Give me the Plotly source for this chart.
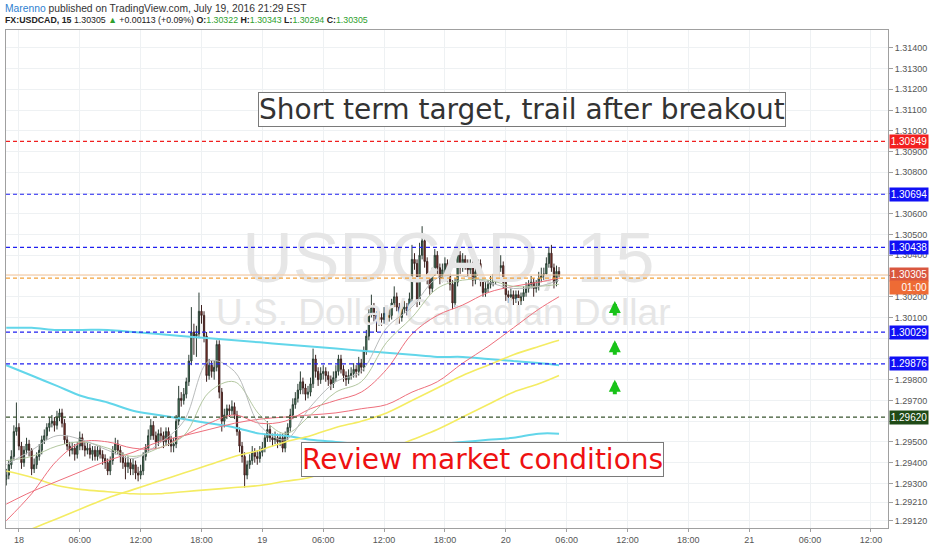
import plotly.graph_objects as go
import pandas as pd

# ---------------- data ----------------
start_time = "2016-07-17 22:45"   # first 15-minute candle

opens = [1.2932,1.2934,1.2939,1.2943,1.2955,1.2957,1.2948,1.2940,1.2946,1.2949,
 1.2946,1.2937,1.2939,1.2943,1.2946,1.2951,1.2953,1.2957,1.2959,1.2960,
 1.2958,1.2962,1.2964,1.2959,1.2951,1.2948,1.2946,1.2947,1.2944,1.2948,
 1.2952,1.2948,1.2946,1.2947,1.2944,1.2946,1.2943,1.2946,1.2944,1.2942,
 1.2940,1.2936,1.2941,1.2946,1.2949,1.2946,1.2943,1.2940,1.2938,1.2940,
 1.2937,1.2939,1.2935,1.2934,1.2936,1.2943,1.2947,1.2953,1.2958,1.2953,
 1.2950,1.2954,1.2953,1.2950,1.2955,1.2951,1.2948,1.2949,1.2960,1.2971,
 1.2970,1.2973,1.2979,1.2989,1.3003,1.3001,1.3002,1.3013,1.3011,1.3001,
 1.2982,1.2987,1.2984,1.2986,1.2997,1.2974,1.2960,1.2963,1.2966,1.2965,
 1.2967,1.2963,1.2955,1.2948,1.2943,1.2934,1.2939,1.2941,1.2945,1.2943,
 1.2942,1.2945,1.2947,1.2952,1.2956,1.2952,1.2951,1.2952,1.2950,1.2952,
 1.2947,1.2953,1.2957,1.2963,1.2968,1.2971,1.2975,1.2979,1.2976,1.2973,
 1.2974,1.2978,1.2990,1.2984,1.2980,1.2983,1.2984,1.2982,1.2980,1.2978,
 1.2981,1.2984,1.2990,1.2985,1.2982,1.2980,1.2982,1.2983,1.2985,1.2984,
 1.2988,1.2986,1.2994,1.3001,1.3012,1.3015,1.3011,1.3009,1.3010,1.3009,
 1.3012,1.3010,1.3011,1.3017,1.3020,1.3015,1.3010,1.3014,1.3015,1.3013,
 1.3019,1.3038,1.3036,1.3018,1.3040,1.3047,1.3037,1.3029,1.3024,1.3032,
 1.3040,1.3034,1.3029,1.3033,1.3036,1.3030,1.3026,1.3017,1.3027,1.3040,
 1.3034,1.3038,1.3036,1.3033,1.3035,1.3028,1.3032,1.3036,1.3028,1.3022,
 1.3024,1.3026,1.3027,1.3028,1.3029,1.3034,1.3035,1.3027,1.3021,1.3020,
 1.3021,1.3019,1.3021,1.3018,1.3020,1.3022,1.3024,1.3026,1.3027,1.3024,
 1.3025,1.3029,1.3030,1.3031,1.3036,1.3041,1.3034,1.3027,1.30322]

highs = [1.2937,1.2941,1.2946,1.2958,1.2969,1.2959,1.2950,1.2948,1.2952,1.2951,
 1.2947,1.2942,1.2945,1.2949,1.2953,1.2956,1.2959,1.2962,1.2963,1.2962,
 1.2965,1.2966,1.2966,1.2961,1.2953,1.2950,1.2950,1.2949,1.2950,1.2955,
 1.2954,1.2950,1.2950,1.2949,1.2948,1.2948,1.2948,1.2948,1.2946,1.2944,
 1.2942,1.2943,1.2948,1.2952,1.2951,1.2948,1.2945,1.2943,1.2943,1.2942,
 1.2942,1.2941,1.2938,1.2939,1.2945,1.2949,1.2956,1.2961,1.2960,1.2955,
 1.2956,1.2957,1.2955,1.2957,1.2957,1.2953,1.2952,1.2963,1.2977,1.2974,
 1.2976,1.2981,1.2992,1.3015,1.3007,1.3006,1.3022,1.3016,1.3013,1.3003,
 1.2990,1.2989,1.2989,1.2999,1.2999,1.2976,1.2966,1.2968,1.2968,1.2970,
 1.2969,1.2965,1.2957,1.2950,1.2945,1.2941,1.2944,1.2948,1.2947,1.2946,
 1.2948,1.2950,1.2954,1.2960,1.2958,1.2954,1.2955,1.2954,1.2954,1.2954,
 1.2955,1.2959,1.2966,1.2971,1.2974,1.2978,1.2984,1.2981,1.2978,1.2977,
 1.2981,1.2995,1.2992,1.2986,1.2986,1.2987,1.2986,1.2984,1.2982,1.2984,
 1.2987,1.2992,1.2992,1.2987,1.2984,1.2985,1.2986,1.2988,1.2987,1.2991,
 1.2990,1.2996,1.3004,1.3014,1.3021,1.3017,1.3013,1.3013,1.3012,1.3015,
 1.3014,1.3014,1.3019,1.3025,1.3022,1.3017,1.3016,1.3018,1.3017,1.3022,
 1.3045,1.3041,1.3038,1.3046,1.3054,1.3050,1.3039,1.3031,1.3034,1.3043,
 1.3042,1.3036,1.3036,1.3039,1.3038,1.3032,1.3028,1.3029,1.3043,1.3042,
 1.3041,1.3040,1.3038,1.3038,1.3037,1.3034,1.3038,1.3038,1.3030,1.3027,
 1.3028,1.3030,1.3031,1.3032,1.3037,1.3040,1.3037,1.3029,1.3023,1.3024,
 1.3023,1.3023,1.3023,1.3022,1.3025,1.3027,1.3028,1.3030,1.3029,1.3028,
 1.3032,1.3034,1.3034,1.3039,1.3044,1.3045,1.3036,1.3035,1.30343]

lows = [1.2929,1.2932,1.2937,1.2941,1.2953,1.2946,1.2937,1.2938,1.2944,1.2943,
 1.2934,1.2935,1.2937,1.2941,1.2944,1.2949,1.2951,1.2955,1.2957,1.2955,
 1.2956,1.2960,1.2957,1.2949,1.2946,1.2943,1.2944,1.2941,1.2942,1.2946,
 1.2946,1.2943,1.2944,1.2942,1.2941,1.2941,1.2941,1.2942,1.2939,1.2937,
 1.2934,1.2934,1.2939,1.2944,1.2944,1.2940,1.2937,1.2932,1.2935,1.2934,
 1.2934,1.2932,1.2931,1.2932,1.2934,1.2941,1.2945,1.2951,1.2951,1.2947,
 1.2948,1.2950,1.2947,1.2948,1.2948,1.2945,1.2945,1.2947,1.2958,1.2967,
 1.2968,1.2971,1.2977,1.2987,1.2992,1.2991,1.3000,1.3007,1.2998,1.2979,
 1.2980,1.2981,1.2980,1.2984,1.2971,1.2955,1.2957,1.2961,1.2962,1.2963,
 1.2961,1.2953,1.2945,1.2940,1.2928,1.2932,1.2937,1.2939,1.2940,1.2939,
 1.2940,1.2943,1.2945,1.2950,1.2950,1.2948,1.2949,1.2947,1.2948,1.2945,
 1.2945,1.2951,1.2955,1.2961,1.2966,1.2969,1.2973,1.2973,1.2970,1.2971,
 1.2972,1.2976,1.2981,1.2977,1.2978,1.2980,1.2979,1.2977,1.2975,1.2976,
 1.2979,1.2982,1.2983,1.2979,1.2977,1.2978,1.2980,1.2981,1.2981,1.2982,
 1.2983,1.2984,1.2992,1.2999,1.3010,1.3008,1.3003,1.3006,1.3006,1.3007,
 1.3007,1.3008,1.3009,1.3015,1.3013,1.3007,1.3008,1.3012,1.3011,1.3011,
 1.3017,1.3033,1.3015,1.3016,1.3038,1.3034,1.3026,1.3021,1.3022,1.3030,
 1.3031,1.3026,1.3027,1.3031,1.3027,1.3023,1.3014,1.3015,1.3025,1.3031,
 1.3032,1.3033,1.3030,1.3031,1.3025,1.3026,1.3030,1.3025,1.3020,1.3020,
 1.3022,1.3024,1.3025,1.3026,1.3027,1.3032,1.3024,1.3018,1.3017,1.3018,
 1.3016,1.3017,1.3015,1.3016,1.3018,1.3020,1.3022,1.3024,1.3020,1.3022,
 1.3023,1.3027,1.3028,1.3029,1.3034,1.3032,1.3024,1.3025,1.30294]

closes = [1.2934,1.2939,1.2943,1.2955,1.2957,1.2948,1.2940,1.2946,1.2949,1.2946,
 1.2937,1.2939,1.2943,1.2946,1.2951,1.2953,1.2957,1.2959,1.2960,1.2958,
 1.2962,1.2964,1.2959,1.2951,1.2948,1.2946,1.2947,1.2944,1.2948,1.2952,
 1.2948,1.2946,1.2947,1.2944,1.2946,1.2943,1.2946,1.2944,1.2942,1.2940,
 1.2936,1.2941,1.2946,1.2949,1.2946,1.2943,1.2940,1.2938,1.2940,1.2937,
 1.2939,1.2935,1.2934,1.2936,1.2943,1.2947,1.2953,1.2958,1.2953,1.2950,
 1.2954,1.2953,1.2950,1.2955,1.2951,1.2948,1.2949,1.2960,1.2971,1.2970,
 1.2973,1.2979,1.2989,1.3003,1.3001,1.3002,1.3013,1.3011,1.3001,1.2982,
 1.2987,1.2984,1.2986,1.2997,1.2974,1.2960,1.2963,1.2966,1.2965,1.2967,
 1.2963,1.2955,1.2948,1.2943,1.2934,1.2939,1.2941,1.2945,1.2943,1.2942,
 1.2945,1.2947,1.2952,1.2956,1.2952,1.2951,1.2952,1.2950,1.2952,1.2947,
 1.2953,1.2957,1.2963,1.2968,1.2971,1.2975,1.2979,1.2976,1.2973,1.2974,
 1.2978,1.2990,1.2984,1.2980,1.2983,1.2984,1.2982,1.2980,1.2978,1.2981,
 1.2984,1.2990,1.2985,1.2982,1.2980,1.2982,1.2983,1.2985,1.2984,1.2988,
 1.2986,1.2994,1.3001,1.3012,1.3015,1.3011,1.3009,1.3010,1.3009,1.3012,
 1.3010,1.3011,1.3017,1.3020,1.3015,1.3010,1.3014,1.3015,1.3013,1.3019,
 1.3038,1.3036,1.3018,1.3040,1.3047,1.3037,1.3029,1.3024,1.3032,1.3040,
 1.3034,1.3029,1.3033,1.3036,1.3030,1.3026,1.3017,1.3027,1.3040,1.3034,
 1.3038,1.3036,1.3033,1.3035,1.3028,1.3032,1.3036,1.3028,1.3022,1.3024,
 1.3026,1.3027,1.3028,1.3029,1.3034,1.3035,1.3027,1.3021,1.3020,1.3021,
 1.3019,1.3021,1.3018,1.3020,1.3022,1.3024,1.3026,1.3027,1.3024,1.3025,
 1.3029,1.3030,1.3031,1.3036,1.3041,1.3034,1.3027,1.30322,1.30305]

# moving-average lines, sampled at these candle indexes
ma_idx = [0,10,20,30,40,50,60,70,80,90,100,110,120,130,140,150,160,170,180,190,200,210,218]
ma_cyan_slow = [1.3005,1.3005,1.3004,1.3004,1.3004,1.3003,1.3002,1.3001,1.3000,1.2999,1.2998,1.2997,
                1.2996,1.2995,1.2994,1.2993,1.2992,1.2991,1.2991,1.2990,1.2989,1.2988,1.2987]
ma_cyan = [1.2987,1.2982,1.2977,1.2972,1.2969,1.2965,1.2963,1.2961,1.2959,1.2957,1.2954,1.2953,
           1.2951,1.2950,1.2949,1.2949,1.2949,1.2949,1.2950,1.2951,1.2952,1.2954,1.2954]
ma_yellow_fast = [1.2903,1.2908,1.2913,1.2918,1.2923,1.2927,1.2931,1.2935,1.2939,1.2943,1.2946,1.2950,
                  1.2953,1.2957,1.2960,1.2964,1.2970,1.2976,1.2982,1.2987,1.2992,1.2996,1.2999]
ma_yellow_slow = [1.2936,1.2933,1.2929,1.2927,1.2926,1.2925,1.2925,1.2926,1.2927,1.2928,1.2929,1.2931,
                  1.2933,1.2937,1.2941,1.2946,1.2951,1.2956,1.2962,1.2968,1.2974,1.2978,1.2982]
ma_red_slow = [1.2920,1.2926,1.2931,1.2936,1.2941,1.2945,1.2950,1.2953,1.2956,1.2959,1.2961,1.2962,
               1.2963,1.2964,1.2966,1.2968,1.2974,1.2979,1.2988,1.2996,1.3005,1.3014,1.3020]
ma_red_fast = [1.2912,1.2925,1.2941,1.2950,1.2950,1.2947,1.2947,1.2953,1.2959,1.2963,1.2959,1.2960,
               1.2966,1.2970,1.2974,1.2985,1.3002,1.3011,1.3016,1.3022,1.3025,1.3027,1.3029]
ma_gray = [1.2939,1.2946,1.2953,1.2951,1.2946,1.2942,1.2949,1.2960,1.2989,1.2984,1.2958,1.2951,
           1.2967,1.2979,1.2984,1.3005,1.3015,1.3029,1.3030,1.3027,1.3024,1.3025,1.3028]
ma_olive = [1.2941,1.2943,1.2948,1.2950,1.2947,1.2943,1.2947,1.2953,1.2974,1.2979,1.2963,1.2954,
            1.2963,1.2974,1.2979,1.2998,1.3010,1.3024,1.3028,1.3028,1.3025,1.3025,1.3026]

# horizontal levels and their axis-label colours
level_values = [1.30949, 1.30694, 1.30438, 1.30029, 1.29876, 1.29620]
level_colors = ["#f02020", "#2020f0", "#2020f0", "#2020f0", "#2020f0", "#3a5530"]
level_label_bg = ["#f21f1f", "#1010f5", "#1010f5", "#1010f5", "#1010f5", "#1f4a16"]
level_labels = ["1.30949", "1.30694", "1.30438", "1.30029", "1.29876", "1.29620"]
orange_level = 1.3029
last_price = 1.30305

# green arrows (time, head price)
arrow_times = ["2016-07-20 10:45", "2016-07-20 10:45", "2016-07-20 10:45"]
arrow_heads = [1.3018, 1.2999, 1.2980]

# axis ticks (labels that sit under a level tag are left blank)
y_tickvals = [1.314,1.313,1.312,1.311,1.310,1.309,1.308,1.307,1.306,1.305,1.304,1.303,1.302,1.301,
              1.300,1.299,1.298,1.297,1.296,1.295,1.294,1.293,1.2921,1.2912]
y_ticktext = ["1.31400","1.31300","1.31200","1.31100","1.31000","1.30900","1.30800","","1.30600",
              "1.30500","1.30400","","1.30200","1.30100","","","1.29800","1.29700",
              "","1.29500","1.29400","1.29300","1.29210","1.29120"]
x_tickvals = ["2016-07-18 00:00","2016-07-18 06:00","2016-07-18 12:00","2016-07-18 18:00",
              "2016-07-19 00:00","2016-07-19 06:00","2016-07-19 12:00","2016-07-19 18:00",
              "2016-07-20 00:00","2016-07-20 06:00","2016-07-20 12:00","2016-07-20 18:00",
              "2016-07-21 00:00","2016-07-21 06:00","2016-07-21 12:00"]
x_ticktext = ["18","06:00","12:00","18:00","19","06:00","12:00","18:00","20","06:00","12:00","18:00",
              "21","06:00","12:00"]

# ---------------- figure ----------------
t0 = pd.Timestamp(start_time)
times = [t0 + pd.Timedelta(minutes=15 * i) for i in range(len(closes))]
ma_times = [times[i] for i in ma_idx]

fig = go.Figure()

# watermark (drawn first so it sits beneath everything)
fig.add_trace(go.Scatter(x=[pd.Timestamp("2016-07-19 18:20")], y=[1.30355], mode="text",
                         text=["USDCAD, 15"], textposition="middle center",
                         textfont=dict(family="Liberation Sans, Arial", size=70, color="#e6e6e6"),
                         hoverinfo="skip"))
fig.add_trace(go.Scatter(x=[pd.Timestamp("2016-07-19 17:50")], y=[1.3011], mode="text",
                         text=["U.S. Dollar/Canadian Dollar"], textposition="middle center",
                         textfont=dict(family="Liberation Sans, Arial", size=37, color="#e6e6e6"),
                         hoverinfo="skip"))

fig.add_trace(go.Candlestick(x=times, open=opens, high=highs, low=lows, close=closes,
                             increasing=dict(line=dict(color="#2b3d33", width=1), fillcolor="#4f9a70"),
                             decreasing=dict(line=dict(color="#3d2220", width=1), fillcolor="#9e3327"),
                             whiskerwidth=0))

ma_specs = [
    (ma_cyan_slow, "#62d6ea", 2),
    (ma_cyan, "#62d6ea", 2),
    (ma_yellow_slow, "#f4ec63", 1.6),
    (ma_yellow_fast, "#f4ec63", 1.6),
    (ma_red_slow, "#ee6f7c", 1),
    (ma_red_fast, "#ee6f7c", 1),
    (ma_olive, "#b3c7a0", 1),
    (ma_gray, "#b9bcbc", 1),
]
for vals, col, w in ma_specs:
    fig.add_trace(go.Scatter(x=ma_times, y=vals, mode="lines", line=dict(color=col, width=w, shape="spline"),
                             hoverinfo="skip"))

x_range = ["2016-07-17 22:43:30", "2016-07-21 13:41"]

shapes = []
for v, c in zip(level_values, level_colors):
    shapes.append(dict(type="line", xref="paper", x0=0, x1=1, yref="y", y0=v, y1=v,
                       line=dict(color=c, width=1.2, dash="4px,3px")))
shapes.append(dict(type="line", xref="paper", x0=0, x1=1, yref="y", y0=last_price, y1=last_price,
                   line=dict(color="#f6c79a", width=1)))
shapes.append(dict(type="line", xref="paper", x0=0, x1=1, yref="y", y0=orange_level, y1=orange_level,
                   line=dict(color="#f3a13a", width=1.2, dash="4px,3px")))

lab_font = dict(family="Liberation Sans, Arial", size=10, color="white")
annotations = []
for v, bg, txt in zip(level_values, level_label_bg, level_labels):
    annotations.append(dict(xref="paper", x=1, xanchor="left", yref="y", y=v, yanchor="middle",
                            text=txt, showarrow=False, bgcolor=bg, borderpad=1, xshift=1,
                            width=36, align="center", font=lab_font))
annotations.append(dict(xref="paper", x=1, xanchor="left", yref="y", y=last_price, yanchor="middle",
                        text="1.30305", showarrow=False, bgcolor="#d9573f", borderpad=1, xshift=1,
                        width=36, align="center", font=lab_font))
annotations.append(dict(xref="paper", x=1, xanchor="left", yref="y", y=last_price, yanchor="middle",
                        text="01:00", showarrow=False, bgcolor="#ee6b35", borderpad=1, xshift=1,
                        width=36, align="right", yshift=-13, font=lab_font))

for t, yv in zip(arrow_times, arrow_heads):
    annotations.append(dict(x=t, y=yv, xref="x", yref="y", showarrow=True, ax=0, ay=16,
                            axref="pixel", ayref="pixel", arrowhead=2, arrowsize=0.6, arrowwidth=4,
                            arrowcolor="#19c319", text=""))

annotations.append(dict(xref="paper", yref="paper", x=0.585, y=0.841, xanchor="center", yanchor="middle",
                        text="Short term target, trail after breakout", showarrow=False,
                        font=dict(family="DejaVu Sans, Verdana", size=28, color="#333333"),
                        bgcolor="white", bordercolor="#7a7a7a", borderwidth=1, borderpad=0))
annotations.append(dict(xref="paper", yref="paper", x=0.540, y=0.138, xanchor="center", yanchor="middle",
                        text="Review market conditions", showarrow=False,
                        font=dict(family="DejaVu Sans, Verdana", size=28, color="#ee1111"),
                        bgcolor="white", bordercolor="#7a7a7a", borderwidth=1, borderpad=0))

# header
annotations.append(dict(xref="paper", yref="paper", x=-0.003, y=1.0437, xanchor="left", yanchor="middle",
                        showarrow=False,
                        text="<span style='color:#2f7fd0'>Marenno</span> published on TradingView.com, July 19, 2016 21:29 EST",
                        font=dict(family="Liberation Sans, Arial", size=10.3, color="#333333")))
g = "#2ea02e"
annotations.append(dict(xref="paper", yref="paper", x=-0.003, y=1.0199, xanchor="left", yanchor="middle",
                        showarrow=False,
                        text=("<b>FX:USDCAD, 15</b> 1.30305 <span style='color:%s'>▲</span> +0.00113 (+0.09%%) "
                              "<b>O:</b><span style='color:%s'>1.30322</span> <b>H:</b><span style='color:%s'>1.30343</span> "
                              "<b>L:</b><span style='color:%s'>1.30294</span> <b>C:</b><span style='color:%s'>1.30305</span>")
                             % (g, g, g, g, g),
                        font=dict(family="Liberation Sans, Arial", size=8.8, color="#222222")))

fig.update_layout(
    width=932, height=550,
    margin=dict(l=5, r=40, t=30, b=17),
    paper_bgcolor="white", plot_bgcolor="white",
    showlegend=False,
    shapes=shapes, annotations=annotations,
    xaxis=dict(type="date", range=x_range, rangeslider=dict(visible=False),
               tickvals=x_tickvals, ticktext=x_ticktext,
               tickfont=dict(family="Liberation Sans, Arial", size=9, color="#555555"),
               showgrid=True, gridcolor="#eef1f3", gridwidth=1,
               showline=True, linecolor="#a0a0a0", mirror=True,
               ticks="outside", ticklen=3, tickcolor="#a0a0a0", zeroline=False),
    yaxis=dict(side="right", range=[1.29085, 1.31486],
               tickvals=y_tickvals, ticktext=y_ticktext,
               tickfont=dict(family="Liberation Sans, Arial", size=9, color="#555555"),
               showgrid=True, gridcolor="#eef1f3", gridwidth=1,
               showline=True, linecolor="#a0a0a0", mirror=True,
               ticks="outside", ticklen=4, tickcolor="#a0a0a0", zeroline=False),
)

fig.write_html("out.html", config={"displayModeBar": False},
               post_script="document.body.style.margin='0';document.body.style.overflow='hidden';")
